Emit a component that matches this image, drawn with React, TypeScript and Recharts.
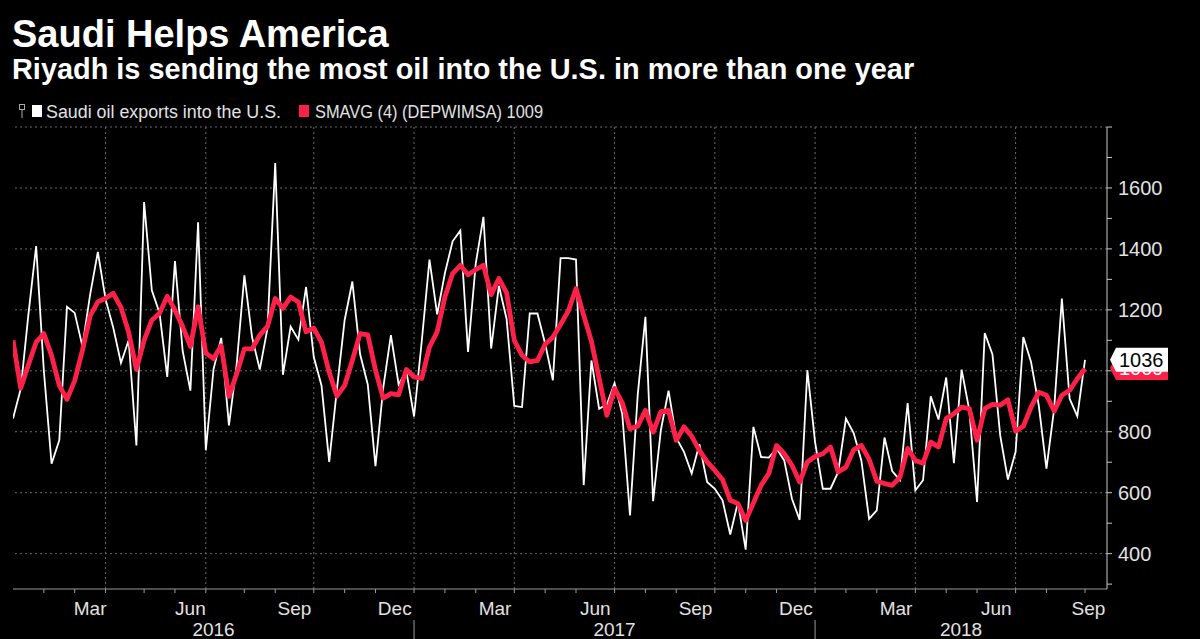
import React from 'react';
import { LineChart, Line, XAxis, YAxis, ReferenceLine } from 'recharts';

// ---- data -------------------------------------------------------------
const START_UTC = Date.UTC(2016, 0, 8); // first week-ending date (Friday)
const DAY = 86400000;
const WEEK = 7 * DAY;

const saudiExports = [
  843, 940, 1185, 1409, 1000, 695, 772, 1210, 1190, 1080,
  1250, 1390, 1235, 1141, 1026, 1100, 755, 1554, 1264, 1190,
  980, 1360, 1065, 935, 1487, 739, 1005, 1108, 821, 1020,
  1313, 1110, 1004, 1140, 1682, 987, 1145, 1102, 1275, 1045,
  952, 701, 940, 1166, 1293, 1055, 955, 687, 943, 1117,
  955, 1000, 850, 1097, 1365, 1185, 1320, 1425, 1460, 1062,
  1352, 1505, 1073, 1279, 1170, 885, 881, 1188, 1188, 1089,
  969, 1370, 1370, 1365, 625, 1034, 875, 890, 960, 858,
  525, 920, 1177, 572, 805, 935, 780, 734, 663, 759,
  635, 613, 575, 463, 569, 413, 816, 717, 715, 745,
  706, 580, 511, 1002, 766, 613, 613, 668, 843, 796,
  706, 514, 542, 781, 671, 641, 894, 608, 641, 916,
  840, 978, 697, 1004, 870, 570, 1124, 1054, 788, 643,
  734, 1111, 1029, 887, 679, 876, 1237, 909, 851, 1036,
];

const smavg4 = [
  1100, 943, 1020, 1094, 1122, 1050, 952, 906, 968, 1067,
  1180, 1226, 1238, 1254, 1208, 1126, 1005, 1100, 1166, 1189,
  1245, 1199, 1145, 1080, 1210, 1058, 1040, 1082, 916, 990,
  1072, 1072, 1117, 1146, 1237, 1205, 1242, 1226, 1128, 1140,
  1093, 995, 917, 952, 1034, 1122, 1118, 1002, 910, 925,
  921, 1004, 980, 975, 1078, 1128, 1242, 1319, 1346, 1315,
  1332, 1346, 1250, 1303, 1256, 1100, 1051, 1029, 1034, 1087,
  1110, 1152, 1196, 1270, 1182, 1097, 975, 854, 942, 895,
  810, 818, 870, 799, 866, 870, 772, 816, 785, 739,
  701, 673, 643, 575, 564, 509, 566, 624, 663, 755,
  728, 690, 635, 701, 719, 728, 750, 668, 684, 741,
  755, 710, 638, 630, 624, 651, 745, 706, 697, 766,
  750, 843, 859, 881, 876, 772, 876, 890, 887, 905,
  802, 818, 881, 930, 920, 868, 920, 936, 974, 1007,
];

const weekEnding = saudiExports.map((_, i) =>
  new Date(START_UTC + i * WEEK).toISOString().slice(0, 10)
);

const yGridValues = [400, 600, 800, 1000, 1200, 1400, 1600, 1800];
const yMinorTicks = [300, 400, 500, 600, 700, 800, 900, 1000, 1100, 1200, 1300, 1400, 1500, 1600, 1700, 1800];
const yLabelValues = [400, 600, 800, 1200, 1400, 1600];
const monthNames = ['Jan', 'Feb', 'Mar', 'Apr', 'May', 'Jun', 'Jul', 'Aug', 'Sep', 'Oct', 'Nov', 'Dec'];
const labelMonths = [2, 5, 8, 11];
const gridMonths = [0, 3, 6, 9];
const years = [2016, 2017, 2018];

const LAST_WHITE = 1036;
const LAST_SMA = 1009;

const TITLE = 'Saudi Helps America';
const SUBTITLE = 'Riyadh is sending the most oil into the U.S. in more than one year';
const LEGEND_1 = 'Saudi oil exports into the U.S.';
const LEGEND_2 = 'SMAVG (4) (DEPWIMSA) 1009';

// ---- layout constants ---------------------------------------------------
const X_MAX = 141.85;
const Y_MIN = 284;
const Y_MAX = 1800;
const FONT = '"Liberation Sans", Arial, sans-serif';
const RED = '#fd2149';
const GRID = '#6a6a6a';
const AXIS = '#9a9a9a';
const TEXT = '#e2e2e2';

const data = weekEnding.map((d, i) => ({
  idx: i,
  date: d,
  saudi: saudiExports[i],
  sma: smavg4[i],
}));

// index of first weekly observation inside a given month
const firstWeekIdx = (y: number, m: number) =>
  Math.ceil((Date.UTC(y, m, 1) - START_UTC) / WEEK - 1e-9);

type Mark = { kind: 'tick' | 'label' | 'year' | 'sep'; text?: string };
const marks = new Map<number, Mark[]>();
const addMark = (v: number, m: Mark) => {
  if (!marks.has(v)) marks.set(v, []);
  marks.get(v)!.push(m);
};

const quarterLines: number[] = [];
years.forEach((y) => {
  for (let m = 0; m < 12; m++) {
    const a = firstWeekIdx(y, m);
    const b = firstWeekIdx(m === 11 ? y + 1 : y, (m + 1) % 12);
    if (a > 0 && a <= X_MAX) {
      addMark(a, { kind: 'tick' });
      if (gridMonths.includes(m)) quarterLines.push(a);
      if (m === 0) addMark(a, { kind: 'sep' });
    }
    if (labelMonths.includes(m) && a < X_MAX && b > 0) {
      const c = Math.min((Math.max(a, 0) + Math.min(b, X_MAX)) / 2, X_MAX - 2.4);
      addMark(c, { kind: 'label', text: monthNames[m] });
    }
  }
  const ys = Math.max(firstWeekIdx(y, 0), 0);
  const ye = Math.min(firstWeekIdx(y + 1, 0), X_MAX);
  addMark((ys + ye) / 2, { kind: 'year', text: String(y) });
});
const xTicks = Array.from(marks.keys()).sort((a, b) => a - b);
const yTicks = [...yMinorTicks, LAST_SMA, LAST_WHITE];

// ---- custom ticks ------------------------------------------------------
const XTick = (props: any) => {
  const { x, y, payload } = props;
  const list = marks.get(payload.value) || [];
  return (
    <g>
      {list.map((m, k) => {
        if (m.kind === 'tick')
          return <line key={k} x1={x} x2={x} y1={y} y2={y + 4} stroke={AXIS} strokeWidth={1} />;
        if (m.kind === 'sep')
          return <line key={k} x1={x} x2={x} y1={y + 31} y2={y + 52} stroke={AXIS} strokeWidth={1} />;
        if (m.kind === 'label')
          return (
            <text key={k} x={x} y={y + 26} textAnchor="middle" fill={TEXT} fontSize={19} fontFamily={FONT}>
              {m.text}
            </text>
          );
        return (
          <text key={k} x={x} y={y + 47} textAnchor="middle" fill={TEXT} fontSize={19} fontFamily={FONT}>
            {m.text}
          </text>
        );
      })}
    </g>
  );
};

const ValueBox = ({ x, y, fill, color, text }: any) => (
  <g>
    <path
      d={`M${x + 3},${y} L${x + 9},${y - 12} L${x + 61},${y - 12} L${x + 61},${y + 12} L${x + 9},${y + 12} Z`}
      fill={fill}
    />
    <text x={x + 12} y={y} dy="0.36em" fill={color} fontSize={20} fontFamily={FONT}>
      {text}
    </text>
  </g>
);

const YTick = (props: any) => {
  const { x, y, payload } = props;
  const v = payload.value;
  if (v === LAST_SMA) return <ValueBox x={x} y={y} fill={RED} color="#ffffff" text={String(LAST_SMA)} />;
  if (v === LAST_WHITE) return <ValueBox x={x} y={y} fill="#ffffff" color="#000000" text={String(LAST_WHITE)} />;
  return (
    <g>
      <line x1={x} x2={x + 5} y1={y} y2={y} stroke="#c8c8c8" strokeWidth={1} />
      {yLabelValues.includes(v) && (
        <text x={x + 11} y={y} dy="0.36em" fill={TEXT} fontSize={20} fontFamily={FONT}>
          {v}
        </text>
      )}
    </g>
  );
};

// ---- component ---------------------------------------------------------
export default function App() {
  return (
    <div style={{ position: 'absolute', left: 0, top: 0, width: 1200, height: 639, background: '#000', overflow: 'hidden' }}>
      <div style={{ position: 'absolute', left: 0, top: 0 }}>
        <LineChart width={1200} height={639} data={data} margin={{ top: 127, right: 0, bottom: 0, left: 13 }}>
          <XAxis
            dataKey="idx"
            type="number"
            domain={[0, X_MAX]}
            ticks={xTicks}
            interval={0}
            tick={XTick}
            tickLine={false}
            tickSize={0}
            tickMargin={0}
            axisLine={{ stroke: AXIS }}
            height={50}
            allowDataOverflow
          />
          <YAxis
            orientation="right"
            type="number"
            domain={[Y_MIN, Y_MAX]}
            ticks={yTicks}
            interval={0}
            tick={YTick}
            tickLine={false}
            tickSize={0}
            tickMargin={0}
            axisLine={{ stroke: '#c8c8c8' }}
            width={93}
            allowDataOverflow
          />
          {yGridValues.map((v) => (
            <ReferenceLine key={'h' + v} y={v} stroke={GRID} strokeDasharray="2 3" />
          ))}
          {quarterLines.map((q) => (
            <ReferenceLine key={'v' + q} x={q} stroke={GRID} strokeDasharray="2 3" />
          ))}
          <Line
            dataKey="saudi"
            type="linear"
            stroke="#ffffff"
            strokeWidth={1.8}
            dot={false}
            activeDot={false}
            isAnimationActive={false}
          />
          <Line
            dataKey="sma"
            type="linear"
            stroke={RED}
            strokeWidth={4.8}
            strokeLinejoin="round"
            dot={false}
            activeDot={false}
            isAnimationActive={false}
          />
        </LineChart>
      </div>
      <svg width={1200} height={135} style={{ position: 'absolute', left: 0, top: 0 }}>
        <text x={12} y={47} fill="#ffffff" fontSize={38} fontWeight="bold" fontFamily={FONT}>
          {TITLE}
        </text>
        <text x={12} y={79} fill="#ffffff" fontSize={28.9} fontWeight="bold" fontFamily={FONT}>
          {SUBTITLE}
        </text>
        <rect x={19.5} y={104.5} width={5} height={5} fill="none" stroke="#aaaaaa" strokeWidth={1} />
        <line x1={22} x2={22} y1={109.5} y2={118} stroke="#aaaaaa" strokeWidth={1} />
        <rect x={32} y={105} width={10} height={12} fill="#ffffff" />
        <text x={46} y={118} fill={TEXT} fontSize={18} fontFamily={FONT} textLength={235} lengthAdjust="spacingAndGlyphs">
          {LEGEND_1}
        </text>
        <rect x={299} y={105} width={10} height={12} fill={RED} />
        <text x={315} y={118} fill={TEXT} fontSize={18} fontFamily={FONT} textLength={228} lengthAdjust="spacingAndGlyphs">
          {LEGEND_2}
        </text>
      </svg>
    </div>
  );
}
